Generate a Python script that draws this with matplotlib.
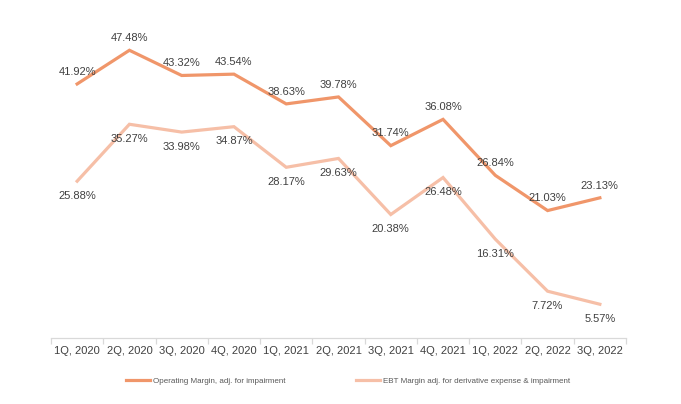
import matplotlib
matplotlib.use("Agg")
import matplotlib.pyplot as plt
import numpy as np

quarters = ["1Q, 2020", "2Q, 2020", "3Q, 2020", "4Q, 2020", "1Q, 2021", "2Q, 2021",
            "3Q, 2021", "4Q, 2021", "1Q, 2022", "2Q, 2022", "3Q, 2022"]
op_margin = [41.92, 47.48, 43.32, 43.54, 38.63, 39.78, 31.74, 36.08, 26.84, 21.03, 23.13]
ebt_margin = [25.88, 35.27, 33.98, 34.87, 28.17, 29.63, 20.38, 26.48, 16.31, 7.72, 5.57]
op_name = "Operating Margin, adj. for impairment"
ebt_name = "EBT Margin adj. for derivative expense & impairment"

plt.rcParams['font.family'] = ['Liberation Sans', 'DejaVu Sans']

fig = plt.figure(figsize=(6.81, 4.04), dpi=100)
ax = fig.add_axes([51/681, 1-338/404, 575/681, 303/404])

x = np.arange(len(quarters))
c_op = "#F0966A"
c_ebt = "#F6BFA7"
l1, = ax.plot(x, op_margin, color=c_op, lw=2.3, label=op_name, solid_joinstyle='miter')
l2, = ax.plot(x, ebt_margin, color=c_ebt, lw=2.3, label=ebt_name, solid_joinstyle='miter')

txtc = "#404040"
for xi, v in zip(x, op_margin):
    ax.annotate(f"{v:.2f}%", (xi, v), xytext=(0, 8.8), textcoords="offset points",
                ha="center", va="center", fontsize=8, color=txtc, annotation_clip=False)
for xi, v in zip(x, ebt_margin):
    ax.annotate(f"{v:.2f}%", (xi, v), xytext=(0, -10.5), textcoords="offset points",
                ha="center", va="center", fontsize=8, color=txtc, annotation_clip=False)

ax.set_xlim(-0.5, len(quarters) - 0.5)
ax.set_ylim(0, 50)
ax.set_yticks([])
for s in ["top", "right", "left"]:
    ax.spines[s].set_visible(False)
ax.spines["bottom"].set_color("#D9D9D9")
ax.spines["bottom"].set_linewidth(0.9)

ax.set_xticks(np.arange(-0.5, len(quarters)), minor=False)
ax.set_xticklabels([])
ax.tick_params(axis="x", which="major", length=4, color="#D9D9D9", width=0.9)
ax.set_xticks(x, minor=True)
ax.set_xticklabels(quarters, minor=True)
ax.tick_params(axis="x", which="minor", length=0, pad=6, labelsize=8, labelcolor=txtc)

fig.legend(handles=[l1, l2], loc="center", bbox_to_anchor=(348/681, 1-381/404),
           ncol=2, frameon=False, fontsize=5.8, labelcolor="#595959",
           handlelength=3.0, handletextpad=0.35, columnspacing=8.8)

fig.savefig("out.png", dpi=100)
